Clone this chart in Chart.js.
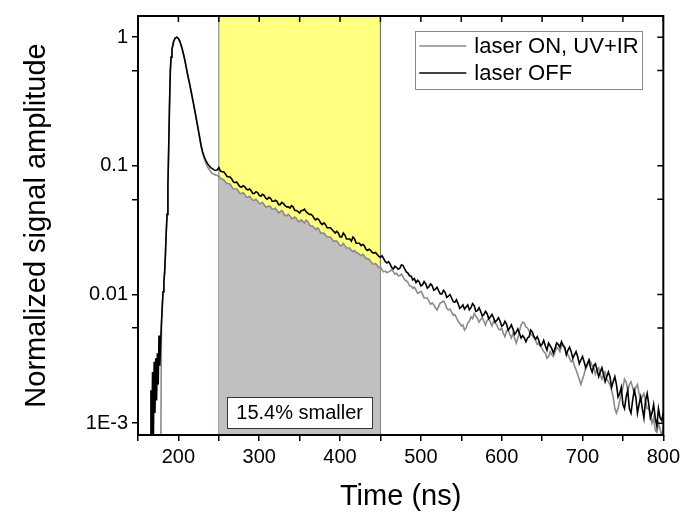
<!DOCTYPE html>
<html>
<head>
<meta charset="utf-8">
<script src="https://cdn.jsdelivr.net/npm/chart.js@4.4.1/dist/chart.umd.min.js"></script>
<style>
html,body{margin:0;padding:0;background:#fff;}
#wrap{width:684px;height:517px;position:relative;}
</style>
</head>
<body>
<div id="wrap"><canvas id="c" width="684" height="517"></canvas></div>
<script>
// ---- data ----
const timeNs = [
  160,163,165,166,167,168,169,170,171,172,173,174,175,176,177,178,
  179,180,181,182,183,184,185,186,187,188,189,190,191,192,
  194,196,198,200,202,204,206,208,210,212,214,216,218,220,222,224,226,228,230,
  232,234,236,238,240,242,244,246,248,250,
  252,254,256,258,260,262,264,266,268,270,
  272,274,276,278,280,282,284,286,288,290,
  292,294,296,298,300,302,304,306,308,310,
  312,314,316,318,320,322,324,326,328,330,
  332,334,336,338,340,342,344,346,348,350,
  352,354,356,358,360,362,364,366,368,370,
  372,374,376,378,380,382,384,386,388,390,
  392,394,396,398,400,402,404,406,408,410,
  412,414,416,418,420,422,424,426,428,430,
  432,434,436,438,440,442,444,446,448,450,
  452,454,456,458,460,462,464,466,468,470,
  472,474,476,478,480,482,484,486,488,490,
  492,494,496,498,500,502,504,506,508,510,
  512,514,516,518,520,522,524,526,528,530,
  532,534,536,538,540,542,544,546,548,550,
  552,554,556,558,560,562,564,566,568,570,
  572,574,576,578,580,582,584,586,588,590,
  592,594,596,598,600,602,604,606,608,610,
  612,614,616,618,620,622,624,626,628,630,
  632,634,636,638,640,642,644,646,648,650,
  652,654,656,658,660,662,664,666,668,670,
  672,674,676,678,680,682,684,686,688,690,
  692,694,696,698,700,702,704,706,708,710,
  712,714,716,718,720,722,724,726,728,730,
  732,734,736,738,740,742,744,746,748,750,
  752,754,756,758,760,762,764,766,768,770,
  772,774,776,778,780,782,784,786,788,790,
  792,794,796,798,800
];
const laserOff = [
  0.0004,0.0006,0.0006,0.0018,0.0006,0.0025,0.0007,0.0030,0.0012,0.0032,0.0015,0.0035,0.0020,0.0048,0.0028,0.0042,
  0.0060,0.0080,0.0105,0.0125,0.0150,0.0210,0.031,0.042,0.070,0.14,0.30,0.55,0.70,0.80,
  0.92,0.985,1.0,0.975,0.92,0.84,0.75,0.66,0.57,0.49,0.43,0.37,0.32,0.275,0.235,0.20,0.17,0.145,0.128,
  0.117,0.110,0.104,0.100,0.097,0.095,0.093,0.092,0.093,0.097,
  0.091,0.090,0.090,0.087,0.083,0.082,0.082,0.079,0.075,0.074,
  0.075,0.072,0.069,0.068,0.070,0.069,0.066,0.065,0.066,0.064,
  0.061,0.061,0.063,0.062,0.059,0.058,0.060,0.059,0.056,0.055,
  0.057,0.056,0.053,0.053,0.054,0.053,0.050,0.050,0.052,0.051,
  0.049,0.048,0.048,0.047,0.049,0.048,0.045,0.045,0.044,0.043,
  0.045,0.045,0.046,0.044,0.043,0.042,0.042,0.041,0.039,0.038,
  0.039,0.038,0.036,0.035,0.036,0.035,0.033,0.033,0.033,0.032,
  0.031,0.030,0.031,0.030,0.028,0.028,0.030,0.029,0.027,0.027,
  0.027,0.026,0.028,0.027,0.025,0.025,0.025,0.024,0.0245,0.024,
  0.0225,0.022,0.0225,0.022,0.0212,0.021,0.0212,0.0205,0.0198,0.0195,
  0.0200,0.0190,0.0180,0.0176,0.0180,0.0172,0.0162,0.0158,0.0166,0.0162,
  0.0157,0.0160,0.0170,0.0168,0.0158,0.0150,0.0147,0.0140,0.0139,0.0130,
  0.0133,0.0124,0.0129,0.0125,0.0117,0.0119,0.0126,0.0121,0.0112,0.0115,
  0.0121,0.0117,0.0108,0.0110,0.0114,0.0107,0.0101,0.0101,0.0108,0.0104,
  0.0095,0.0097,0.0100,0.0094,0.0088,0.0087,0.0091,0.0085,0.0078,0.0080,
  0.0083,0.0077,0.0080,0.0083,0.0076,0.0079,0.0085,0.0082,0.0074,0.0075,
  0.0079,0.0074,0.0068,0.0070,0.0074,0.0071,0.0065,0.0067,0.0070,0.0066,
  0.0061,0.0063,0.0066,0.0062,0.0057,0.0058,0.0062,0.0059,0.0053,0.0055,
  0.0058,0.0054,0.0049,0.0051,0.0054,0.0050,0.0046,0.0048,0.0046,0.0043,
  0.0046,0.0047,0.0053,0.0051,0.0047,0.0045,0.0047,0.0044,0.0040,0.0041,
  0.0044,0.0040,0.0037,0.0042,0.0040,0.0038,0.0035,0.0038,0.0042,0.0041,
  0.0039,0.0043,0.0040,0.0039,0.0034,0.0037,0.0039,0.0036,0.0032,0.0034,
  0.0036,0.0033,0.0029,0.0031,0.0033,0.0030,0.0027,0.0029,0.0031,0.0027,
  0.0025,0.0028,0.0029,0.0026,0.0023,0.0025,0.0027,0.0024,0.0021,0.0023,
  0.0025,0.0023,0.0019,0.0021,0.0023,0.0020,0.0016,0.0017,0.0019,0.0014,
  0.0013,0.0016,0.0018,0.0013,0.0012,0.0015,0.0018,0.0016,0.0012,0.0014,
  0.0016,0.0013,0.0011,0.0015,0.0017,0.0014,0.0011,0.0012,0.0014,0.0011,
  0.00095,0.0013,0.0011,0.00105,0.0012
];
const laserOn = [
  0.0003,0.0003,0.0003,0.0003,0.0003,0.0003,0.0003,0.0003,0.0003,0.0003,0.0003,0.0003,0.0003,0.0003,0.0003,0.0003,
  0.0055,0.0080,0.0105,0.0125,0.0150,0.0210,0.031,0.042,0.070,0.14,0.30,0.55,0.70,0.80,
  0.92,0.985,1.0,0.975,0.92,0.84,0.75,0.66,0.57,0.49,0.43,0.37,0.32,0.275,0.235,0.20,0.17,0.142,0.125,
  0.114,0.105,0.098,0.094,0.090,0.087,0.086,0.085,0.084,0.083,
  0.080,0.079,0.078,0.075,0.073,0.073,0.072,0.069,0.066,0.066,
  0.066,0.064,0.061,0.061,0.062,0.060,0.057,0.057,0.058,0.056,
  0.054,0.054,0.055,0.053,0.051,0.051,0.052,0.050,0.048,0.048,
  0.049,0.048,0.046,0.046,0.047,0.045,0.043,0.044,0.045,0.043,
  0.041,0.041,0.042,0.041,0.039,0.039,0.040,0.039,0.037,0.037,
  0.038,0.037,0.036,0.038,0.037,0.035,0.034,0.034,0.033,0.032,
  0.033,0.032,0.030,0.030,0.030,0.029,0.028,0.028,0.028,0.027,
  0.026,0.026,0.026,0.025,0.024,0.024,0.025,0.024,0.023,0.023,
  0.023,0.022,0.0215,0.022,0.0212,0.021,0.0205,0.020,0.0205,0.020,
  0.019,0.019,0.0188,0.018,0.0174,0.0172,0.0174,0.0168,0.0162,0.0163,
  0.0156,0.0150,0.0152,0.0148,0.0150,0.0152,0.0156,0.0150,0.0144,0.0146,
  0.0140,0.0140,0.0144,0.0137,0.0130,0.0128,0.0124,0.0117,0.0116,0.0112,
  0.0114,0.0108,0.0102,0.0104,0.0106,0.0101,0.0094,0.0094,0.0094,0.0089,
  0.0084,0.0086,0.0083,0.0079,0.0076,0.0081,0.0086,0.0087,0.0089,0.0085,
  0.0078,0.0076,0.0077,0.0073,0.0069,0.0070,0.0066,0.0062,0.0060,0.0057,
  0.0058,0.0053,0.0055,0.0060,0.0062,0.0067,0.0065,0.0071,0.0068,0.0065,
  0.0061,0.0064,0.0066,0.0062,0.0058,0.0063,0.0065,0.0061,0.0057,0.0062,
  0.0060,0.0058,0.0054,0.0053,0.0055,0.0050,0.0047,0.0052,0.0053,0.0049,
  0.0046,0.0050,0.0046,0.0042,0.0046,0.0052,0.0058,0.0061,0.0060,0.0056,
  0.0055,0.0052,0.0049,0.0048,0.0046,0.0044,0.0041,0.0042,0.0040,0.0038,
  0.0036,0.0035,0.0032,0.0033,0.0036,0.0034,0.0033,0.0036,0.0039,0.0038,
  0.0036,0.0040,0.0041,0.0038,0.0035,0.0034,0.0032,0.0030,0.0031,0.0028,
  0.0026,0.0024,0.0022,0.0020,0.0022,0.0024,0.0027,0.0028,0.0031,0.0030,
  0.0028,0.0027,0.0024,0.0026,0.0027,0.0024,0.0022,0.0024,0.0025,0.0022,
  0.0021,0.0020,0.0018,0.0016,0.0013,0.0012,0.0013,0.0015,0.0017,0.0019,
  0.0022,0.0021,0.0018,0.0020,0.0021,0.0019,0.0017,0.0019,0.0020,0.0017,
  0.0015,0.0016,0.0017,0.0015,0.0013,0.0013,0.0012,0.0010,0.0011,0.00088,
  0.00085,0.0010,0.0009,0.0008,0.0009
];
const seriesLabels = ['laser OFF', 'laser ON, UV+IR'];
const xTicks = [150,200,250,300,350,400,450,500,550,600,650,700,750,800];
const xLabels = {200:'200',300:'300',400:'400',500:'500',600:'600',700:'700',800:'800'};
const yTicks = [0.001,0.0055,0.01,0.055,0.1,0.55,1];
const yLabels = {'0.001':'1E-3','0.01':'0.01','0.1':'0.1','1':'1'};
const xRange = [150, 800];
const yRange = [0.00081, 1.46];
const band = [250, 450];
const annotation = {text:'15.4% smaller', x:350};
const axisTitles = {x:'Time (ns)', y:'Normalized signal amplitude'};

// ---- build ----
const FONT = "'Liberation Sans', Arial, sans-serif";
const pts = arr => timeNs.map((t,i)=>({x:t,y:arr[i]}));
const fillPts = timeNs.map((t,i)=>({x:t,y:laserOn[i]})).filter(p=>p.x>=band[0]&&p.x<=band[1]);

const extras = {
  id:'extras',
  afterDatasetsDraw(chart){
    const {ctx, chartArea:a, scales:{x,y}} = chart;
    ctx.save();
    ctx.strokeStyle='#000'; ctx.lineWidth=1.5;
    ctx.beginPath();
    x.ticks.forEach(t=>{const px=x.getPixelForValue(t.value); ctx.moveTo(px,a.top); ctx.lineTo(px,a.top+6);});
    y.ticks.forEach(t=>{const py=y.getPixelForValue(t.value); ctx.moveTo(a.right,py); ctx.lineTo(a.right-6,py);});
    ctx.stroke();
    ctx.lineWidth=2;
    ctx.strokeRect(a.left, a.top, a.right-a.left, a.bottom-a.top);
    // annotation box
    ctx.font = '20px '+FONT;
    const cx = x.getPixelForValue(annotation.x);
    const bw = 145, bh = 31;
    const by = a.bottom - 38;
    ctx.fillStyle='#fff'; ctx.fillRect(cx-bw/2, by, bw, bh);
    ctx.lineWidth=1; ctx.strokeStyle='#333';
    ctx.strokeRect(Math.round(cx-bw/2)+0.5, Math.round(by)+0.5, bw, bh);
    ctx.fillStyle='#000'; ctx.textAlign='center'; ctx.textBaseline='middle';
    ctx.fillText(annotation.text, cx, by+bh/2+1);
    // legend
    const lx = a.right-248, ly = a.top+15, lw = 227, lh = 58;
    ctx.fillStyle='#fff'; ctx.fillRect(lx, ly, lw, lh);
    ctx.strokeStyle='#888'; ctx.lineWidth=1;
    ctx.strokeRect(Math.round(lx)+0.5, Math.round(ly)+0.5, lw, lh);
    const items = [chart.data.datasets[1], chart.data.datasets[0]];
    ctx.font='22px '+FONT; ctx.textAlign='left'; ctx.textBaseline='middle';
    items.forEach((ds,i)=>{
      const ry = ly + 15 + i*27;
      ctx.strokeStyle = ds.borderColor; ctx.lineWidth = ds.borderWidth;
      ctx.beginPath(); ctx.moveTo(lx+4, ry); ctx.lineTo(lx+51, ry); ctx.stroke();
      ctx.fillStyle='#000'; ctx.fillText(ds.label, lx+59, ry+1);
    });
    ctx.restore();
  }
};

new Chart(document.getElementById('c'), {
  type:'line',
  data:{datasets:[
    {label:seriesLabels[0], data:pts(laserOff), borderColor:'#000000', borderWidth:1.6, pointRadius:0, fill:false, tension:0},
    {label:seriesLabels[1], data:pts(laserOn), borderColor:'#8a8a8a', borderWidth:1.6, pointRadius:0, fill:false, tension:0},
    {label:'fill', data:fillPts, borderWidth:0, borderColor:'rgba(0,0,0,0)', backgroundColor:'#c0c0c0', pointRadius:0, fill:'start', tension:0},
    {label:'band', data:[{x:band[0],y:yRange[0]},{x:band[0],y:yRange[1]},{x:band[1],y:yRange[1]},{x:band[1],y:yRange[0]}],
      borderColor:'#7a7a6a', borderWidth:1, backgroundColor:'#ffff80', pointRadius:0, fill:'start', tension:0}
  ]},
  options:{
    responsive:false, animation:false, events:[],
    layout:{padding:{top:13,right:19,left:0,bottom:0}},
    plugins:{legend:{display:false}, tooltip:{enabled:false}},
    scales:{
      x:{type:'linear', min:xRange[0], max:xRange[1],
        afterBuildTicks:s=>{s.ticks = xTicks.map(v=>({value:v}));},
        afterFit:s=>{s.height=82;},
        ticks:{callback:v=>xLabels[v]||'', font:{family:FONT,size:20}, color:'#000', maxRotation:0, autoSkip:false, padding:4},
        grid:{drawOnChartArea:false, drawTicks:true, tickLength:6, color:'#000', lineWidth:1.5},
        border:{display:false},
        title:{display:true, text:axisTitles.x, font:{family:FONT,size:29}, color:'#000', padding:{top:0,bottom:3}}
      },
      y:{type:'logarithmic', min:yRange[0], max:yRange[1],
        afterBuildTicks:s=>{s.ticks = yTicks.map(v=>({value:v}));},
        afterFit:s=>{s.width=138;},
        ticks:{callback:v=>yLabels[String(v)]||'', font:{family:FONT,size:20}, color:'#000', autoSkip:false, padding:4},
        grid:{drawOnChartArea:false, drawTicks:true, tickLength:6, color:'#000', lineWidth:1.5},
        border:{display:false},
        title:{display:true, text:axisTitles.y, font:{family:FONT,size:29}, color:'#000', padding:{top:20,bottom:0}}
      }
    }
  },
  plugins:[extras]
});
</script>
</body>
</html>
